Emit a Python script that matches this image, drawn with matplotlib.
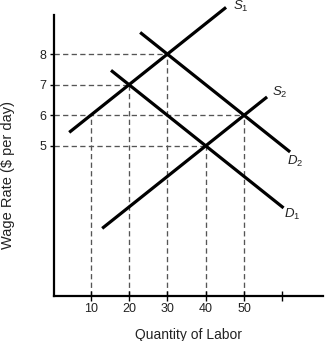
import matplotlib
matplotlib.use("Agg")
import matplotlib.pyplot as plt
import numpy as np

plt.rcParams["font.family"] = ["Liberation Sans", "DejaVu Sans"]
plt.rcParams["mathtext.fontset"] = "custom"
plt.rcParams["mathtext.it"] = "Liberation Sans:italic"
plt.rcParams["mathtext.rm"] = "Liberation Sans"

# Linear curves: wage = intercept + slope * quantity, drawn over a quantity range
curve_names = ["S_1", "D_1", "D_2", "S_2"]
curve_intercepts = [5.0, 9.0, 11.0, 1.0]
curve_slopes = [0.1, -0.1, -0.1, 0.1]
curve_q_start = [4.4, 15.3, 22.9, 13.0]
curve_q_end = [45.3, 60.3, 62.0, 56.0]
label_q = [47.0, 60.5, 61.2, 57.3]
label_w = [9.55, 2.75, 4.48, 6.76]

# Dashed guide lines: wage levels read across, quantities read down
h_wages = [8, 7, 6, 5]
h_qty = [30, 20, 50, 40]
v_qty = [10, 20, 30, 40, 50]
v_wages = [6, 7, 8, 5, 6]

x_ticks = [10, 20, 30, 40, 50, 60]
x_tick_labels = ["10", "20", "30", "40", "50", ""]
y_ticks = [5, 6, 7, 8]

fig = plt.figure(figsize=(3.26, 3.41), dpi=100)
ax = fig.add_axes([0.167, 0.133, 0.824, 0.823])
x0, x1 = 0.55, 70.6
y0, y1 = 0.1, 9.28
ax.set_xlim(x0, x1)
ax.set_ylim(y0, y1)

dash_kw = dict(color="#555555", lw=0.95, dashes=(4, 2.5), zorder=1)
for w, q in zip(h_wages, h_qty):
    ax.plot([x0, q], [w, w], **dash_kw)
for q, w in zip(v_qty, v_wages):
    ax.plot([q, q], [y0, w], **dash_kw)

for name, b, m, qa, qb, lq, lw_ in zip(curve_names, curve_intercepts, curve_slopes,
                                       curve_q_start, curve_q_end, label_q, label_w):
    q = np.array([qa, qb])
    ax.plot(q, b + m * q, color="black", lw=2.3, solid_capstyle="butt", zorder=3,
            clip_on=False)
    ax.text(lq, lw_, "$" + name + "$", fontsize=9.5, ha="left", va="center",
            color="#222222", clip_on=False)

for s in ["top", "right"]:
    ax.spines[s].set_visible(False)
for s in ["left", "bottom"]:
    ax.spines[s].set_linewidth(1.6)

ax.set_xticks(x_ticks)
ax.set_xticklabels(x_tick_labels, fontsize=9)
ax.set_yticks(y_ticks)
ax.set_yticklabels([str(v) for v in y_ticks], fontsize=9)
ax.tick_params(axis="x", direction="inout", length=7, width=1, pad=1.5,
               labelcolor="#222222")
ax.tick_params(axis="y", direction="out", length=3, width=1, pad=3,
               labelcolor="#222222")

ax.set_xlabel("Quantity of Labor", fontsize=10, labelpad=10, color="#222222")
ax.set_ylabel("Wage Rate ($ per day)", fontsize=10.5, labelpad=3, color="#222222")
ax.yaxis.set_label_coords(-0.145, 0.43)

fig.savefig("out.png", dpi=100)
